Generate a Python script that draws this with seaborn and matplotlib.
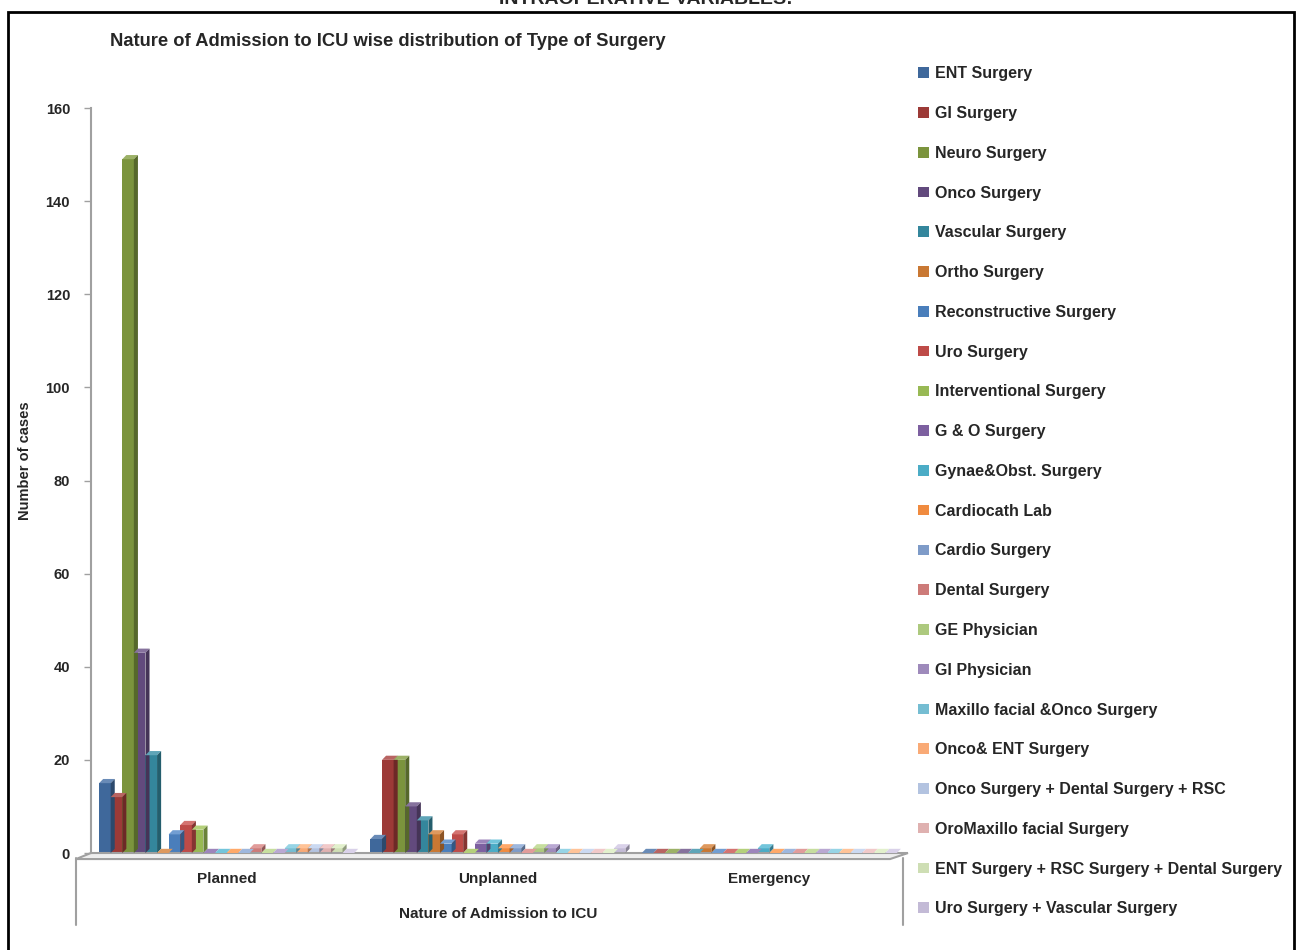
import matplotlib
matplotlib.use("Agg")
import matplotlib.pyplot as plt
import matplotlib.colors as mcolors
from matplotlib.patches import Polygon, Rectangle
from matplotlib.lines import Line2D
import pandas as pd
import seaborn as sns

# categories on the x axis
admission = ["Planned", "Unplanned", "Emergency"]

# surgery types (legend order)
surgery = [
    "ENT Surgery", "GI Surgery", "Neuro Surgery", "Onco Surgery",
    "Vascular Surgery", "Ortho Surgery", "Reconstructive Surgery",
    "Uro Surgery", "Interventional Surgery", "G & O Surgery",
    "Gynae&Obst. Surgery", "Cardiocath Lab", "Cardio Surgery",
    "Dental Surgery", "GE Physician", "GI Physician",
    "Maxillo facial &Onco Surgery", "Onco& ENT Surgery",
    "Onco Surgery + Dental Surgery + RSC", "OroMaxillo facial Surgery",
    "ENT Surgery + RSC Surgery + Dental Surgery",
    "Uro Surgery + Vascular Surgery",
]

planned = [15, 12, 149, 43, 21, 0, 4, 6, 5, 0, 0, 0, 0, 1, 0, 0, 1, 1, 1, 1, 1, 0]
unplanned = [3, 20, 20, 10, 7, 4, 2, 4, 0, 2, 2, 1, 1, 0, 1, 1, 0, 0, 0, 0, 0, 1]
emergency = [0, 0, 0, 0, 0, 1, 0, 0, 0, 0, 1, 0, 0, 0, 0, 0, 0, 0, 0, 0, 0, 0]

colours = [
    "#3F689B", "#9C3A37", "#7B943D", "#624A7D", "#34869C", "#C97833",
    "#4A7EBB", "#BE4B48", "#98B954", "#7D60A0", "#4BACC6", "#F08B3F",
    "#7E9BC8", "#CD7B79", "#ADC97E", "#9E8ABB", "#75BDD2", "#F9AA76",
    "#B3C3E0", "#DFB1B0", "#CEDEB4", "#C3BAD6",
]

rows = []
for adm, vals in zip(admission, [planned, unplanned, emergency]):
    for s, v in zip(surgery, vals):
        rows.append({"admission": adm, "surgery": s, "cases": v})
df = pd.DataFrame(rows)

sns.set_theme(style="white")
plt.rcParams["font.family"] = ["Liberation Sans", "DejaVu Sans"]
plt.rcParams["font.weight"] = "bold"

fig = plt.figure(figsize=(13.01, 9.5), dpi=100)
ax = fig.add_axes([0.0699, 0.1021, 0.6257, 0.7842])

sns.barplot(data=df, x="admission", y="cases", hue="surgery",
            order=admission, hue_order=surgery, palette=colours,
            width=0.94, gap=0, linewidth=0, saturation=1, ax=ax, legend=False)

ax.set_xlim(-0.5, 2.5)
ax.set_ylim(0, 160)
ax.set_yticks(range(0, 161, 20))

# fake 3D look: top and side faces for each bar
dx, dy = 0.015, 0.9
bars = [p for p in ax.patches if isinstance(p, Rectangle)]
for p in bars:
    x, w, h = p.get_x(), p.get_width(), p.get_height()
    base = mcolors.to_rgb(p.get_facecolor())
    dark = tuple(c * 0.7 for c in base)
    light = tuple(min(1, c * 0.85 + 0.2) for c in base)
    ax.add_patch(Polygon([(x, h), (x + dx, h + dy), (x + w + dx, h + dy), (x + w, h)],
                         closed=True, fc=light, ec="none", zorder=3, clip_on=False))
    ax.add_patch(Polygon([(x + w, 0), (x + w + dx, dy), (x + w + dx, h + dy), (x + w, h)],
                         closed=True, fc=dark, ec="none", zorder=3, clip_on=False))

# floor
fdx, fdy = 0.055, -1.3
ax.add_patch(Polygon([(-0.5, 0), (2.5, 0), (2.5 + fdx * 0.2, 0), (2.5 - fdx, fdy), (-0.5 - fdx, fdy)],
                     closed=True, fc="#EEEEEE", ec="#A0A0A0", lw=1.5, zorder=1, clip_on=False))

for side in ["top", "right", "bottom"]:
    ax.spines[side].set_visible(False)
ax.spines["left"].set_color("#A0A0A0")
ax.spines["left"].set_linewidth(1.5)

# front-face lines of the 3D floor
fig.add_artist(Line2D([76 / 1301, 76 / 1301], [1 - 858 / 950, 1 - 925 / 950], color="#A0A0A0", lw=1.5))
fig.add_artist(Line2D([903 / 1301, 903 / 1301], [1 - 858 / 950, 1 - 925 / 950], color="#A0A0A0", lw=1.5))

ax.tick_params(axis="y", which="both", left=True, length=5, width=1, color="#A0A0A0",
               labelsize=10.5, pad=10)
ax.tick_params(axis="x", bottom=False, labelsize=11, pad=8)
for lab in ax.get_yticklabels() + ax.get_xticklabels():
    lab.set_fontweight("bold")

ax.set_xlabel("Nature of Admission to ICU", fontsize=11, fontweight="bold", labelpad=15)
ax.set_ylabel("Number of cases", fontsize=10.5, fontweight="bold")
ax.yaxis.set_label_coords(-0.072, 0.527)

fig.text(110 / 1301, 1 - 42 / 950, "Nature of Admission to ICU wise distribution of Type of Surgery",
         fontsize=13.2, fontweight="bold", va="center", ha="left")
fig.text(646 / 1301, 1.0, "INTRAOPERATIVE VARIABLES:", fontsize=14, fontweight="bold",
         ha="center", va="center")

# outer frame
fig.add_artist(Rectangle((8 / 1301, -0.01), (1294 - 8) / 1301, 1 - 12 / 950 + 0.01,
                         transform=fig.transFigure, fill=False, ec="black", lw=2))

handles = [Rectangle((0, 0), 1, 1, fc=c, ec="none") for c in colours]
fig.legend(handles, surgery, loc="upper left", bbox_to_anchor=(912 / 1301, 1 - 60 / 950),
           frameon=False, handlelength=0.65, handleheight=0.65,
           handletextpad=0.4, labelspacing=1.55, borderaxespad=0,
           prop={"weight": "bold", "size": 11.5})

fig.savefig("out.png", dpi=100)
